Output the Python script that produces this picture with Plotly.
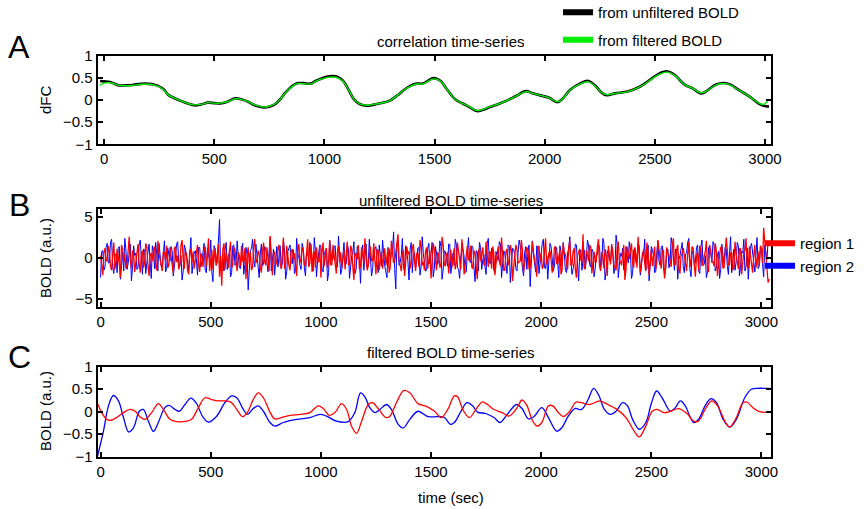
import numpy as np
import plotly.graph_objects as go

# ---------------- Panel A: sliding-window correlation (dFC) ----------------
dfc_t = [-18, 0, 30, 68, 100, 130, 185, 240, 270, 293, 320, 348, 380, 410, 440, 472,
         500, 526, 560, 596, 625, 650, 690, 728, 750, 775, 800, 822, 850, 876, 905, 938,
         960, 985, 1015, 1039, 1060, 1085, 1110, 1132, 1160, 1194, 1220, 1248, 1295, 1330,
         1357, 1390, 1419, 1445, 1466, 1490, 1510, 1530, 1558, 1595, 1632, 1665, 1692, 1720,
         1751, 1790, 1826, 1870, 1915, 1945, 1975, 2020, 2057, 2080, 2116, 2160, 2198, 2230,
         2255, 2280, 2320, 2376, 2420, 2451, 2490, 2525, 2555, 2592, 2615, 2637, 2670, 2711,
         2740, 2778, 2823, 2850, 2868, 2900, 2935, 2972, 2994, 3018]
dfc_unfiltered = [0.43, 0.42, 0.40, 0.33, 0.33, 0.34, 0.37, 0.33, 0.24, 0.11, 0.04, -0.02, -0.08,
                  -0.12, -0.10, -0.06, -0.07, -0.08, -0.04, 0.04, 0.01, -0.03, -0.13, -0.17, -0.15,
                  -0.10, 0.02, 0.16, 0.30, 0.38, 0.38, 0.37, 0.43, 0.48, 0.53, 0.54, 0.52, 0.43,
                  0.23, 0.03, -0.09, -0.13, -0.11, -0.08, -0.02, 0.10, 0.21, 0.32, 0.37, 0.37,
                  0.42, 0.49, 0.48, 0.42, 0.23, 0.01, -0.09, -0.18, -0.25, -0.22, -0.16, -0.09,
                  -0.02, 0.09, 0.20, 0.15, 0.11, 0.05, -0.05, 0.02, 0.23, 0.37, 0.43, 0.32, 0.18,
                  0.11, 0.15, 0.19, 0.27, 0.36, 0.50, 0.61, 0.65, 0.56, 0.44, 0.34, 0.27, 0.15,
                  0.22, 0.35, 0.38, 0.33, 0.27, 0.17, 0.06, -0.08, -0.13, -0.15]
dfc_filtered = [0.33, 0.38, 0.39, 0.33, 0.32, 0.33, 0.36, 0.32, 0.23, 0.11, 0.04, -0.02, -0.08,
                -0.11, -0.10, -0.06, -0.07, -0.07, -0.04, 0.03, 0.01, -0.03, -0.12, -0.16, -0.14,
                -0.09, 0.02, 0.16, 0.29, 0.37, 0.37, 0.36, 0.42, 0.47, 0.51, 0.52, 0.50, 0.42,
                0.23, 0.03, -0.09, -0.12, -0.10, -0.08, -0.02, 0.10, 0.21, 0.31, 0.36, 0.36,
                0.41, 0.47, 0.47, 0.41, 0.23, 0.01, -0.09, -0.17, -0.24, -0.21, -0.15, -0.09,
                -0.02, 0.09, 0.19, 0.15, 0.11, 0.05, -0.04, 0.02, 0.23, 0.36, 0.41, 0.31, 0.18,
                0.12, 0.15, 0.19, 0.27, 0.35, 0.49, 0.59, 0.63, 0.55, 0.44, 0.34, 0.27, 0.16,
                0.22, 0.34, 0.37, 0.32, 0.26, 0.17, 0.06, -0.07, -0.10, 0.02]

# ---------------- Panel B: unfiltered BOLD (samples every 5 s) ----------------
# samples at t = 0, 10, 20, ... s
bold_region1_even = [
    0.3, -2.1, 1.2, -0.4, 0.8, -1.5, 1.9, -0.6, 0.2, -2.4, 1.1, 0.5, -0.9, 2.6, -1.2, 0.4,
    -0.3, 1.7, -1.8, 0.9, -0.5, 1.3, -2.2, 0.6, 1.0, -1.1, 2.1, -0.2, -1.6, 0.7, 1.5, -0.8,
    0.1, -1.9, 1.4, 0.3, -0.7, 2.2, -1.3, 0.5, -2.0, 1.1, 0.8, -0.4, 1.6, -1.7, 0.2, 0.9,
    -1.0, 2.4, -0.6, -1.4, 1.2, 0.4, -2.3, -3.4, 1.8, 0.6, -1.2, 2.0, -0.8, 1.0, -1.6, 0.3,
    1.5, -0.5, -2.6, 1.3, 0.7, -1.1, 2.3, -0.3, 0.5, -1.8, 1.9, -0.9, 0.2, 2.7, -2.1, 0.8,
    -0.4, 1.6, -1.3, 2.5, -0.7, 0.1, -1.5, 1.1, 0.6, -2.2, 1.7, -0.2, 0.9, -1.0, 2.3, -0.6,
    -1.7, 0.8, 1.3, -0.5, -2.4, 1.9, 0.3, -1.2, 2.2, -0.8, 0.4, -1.9, 1.5, 0.7, -0.3, -1.4,
    2.0, -0.9, 1.1, -2.7, 0.5, 1.6, -1.0, 0.2, 2.4, -1.5, 0.6, -0.4, 1.8, -2.0, 0.9, -0.2,
    -1.3, 1.2, 0.4, -1.8, 2.1, -0.6, 1.0, 2.9, -1.1, 0.3, -2.2, 1.4, 0.8, -0.5, 1.7, -1.6,
    0.5, 2.2, -0.9, -1.5, 1.3, 0.1, -2.5, 1.8, -0.3, 0.7, -1.2, 2.6, -0.7, 0.4, -1.9, 1.0,
    0.2, -1.4, 1.9, -0.6, 2.3, -2.0, 0.9, -0.2, 1.5, -1.3, 0.6, -2.6, 1.2, 0.3, -0.8, 2.0,
    -1.1, 0.7, 1.4, -2.1, 0.5, -0.4, 2.5, -1.5, 0.8, -0.9, 1.6, -2.8, 0.4, 1.1, -0.5, 2.2,
    -1.7, 0.3, 1.0, -1.2, 2.0, -0.6, -2.3, 1.5, 0.6, -1.0, 2.4, -0.3, 0.9, -1.8, 1.3, -0.7,
    0.1, -2.0, 1.8, 0.5, -1.4, 2.1, -0.8, 1.2, -2.4, 0.7, -0.2, 2.9, -1.3, 0.4, 1.6, -1.9,
    0.8, -0.5, 2.3, -1.6, 0.2, 1.1, -2.2, 0.6, 1.7, -0.9, -1.5, 2.0, -0.4, 0.9, -2.7, 1.4,
    -0.1, 1.8, -1.2, 0.5, 2.6, -1.8, 0.3, -0.7, 1.9, -2.1, 1.0, 0.2, -1.4, 2.2, -0.6, 0.8,
    -2.5, 1.3, 0.4, -1.1, 2.4, -0.8, 1.6, -1.9, 0.6, 0.1, -1.6, 2.0, -0.3, 1.2, -2.3, 0.7,
    1.5, -1.0, 0.3, 2.1, -1.7, 0.9, -0.5, 1.8, -2.2, 0.4, 1.3, -1.2, 2.5, -0.9, 0.6, -1.5,
    2.0, -0.4, 1.1, -2.0, 0.8, 2.4, -1.3, 0.5, -1.8, 1.6, 0.2, -1.0, 1.2, 3.7, 0.4, -3.0,
]
# samples at t = 5, 15, 25, ... s
bold_region1_odd = [
    -1.2, 0.7, -0.3, 1.5, -1.0, 0.4, -1.4, 1.1, -0.8, 1.6, -0.5, -1.3, 1.2, -0.2, 0.9, -1.7,
    1.0, -0.6, 0.5, -1.2, 1.8, -0.9, 0.3, -0.4, 1.4, -1.5, 0.6, -1.1, 0.8, -0.3, -1.2, 1.3,
    -0.7, 1.2, -0.5, -1.4, 1.6, -0.2, 0.8, -1.5, 0.9, -0.6, -1.3, 1.1, -0.8, 0.6, -1.1, 1.4,
    0.5, -1.6, 1.0, 0.2, -0.9, 1.7, 0.3, 1.1, -1.4, -0.3, 0.9, -1.2, 1.3, -0.5, 0.7, -1.0,
    -0.4, 1.2, 0.3, -0.8, -1.5, 1.4, -0.6, 0.9, -1.2, 0.8, -0.5, 1.3, -1.6, 0.2, 0.6, -0.9,
    1.1, -0.7, 0.4, -1.3, 1.5, -0.9, 0.8, -0.2, -1.4, 1.0, -0.6, 1.3, -0.8, 0.5, -1.1, 1.7,
    0.6, -1.2, -0.3, 1.4, 0.8, -1.0, 1.2, -0.4, -0.9, 1.6, -1.3, 0.7, -0.5, -1.2, 1.0, 0.4,
    -0.8, 1.5, -1.1, 0.6, -0.2, -1.4, 1.3, -0.7, 0.9, -1.0, 1.4, -0.3, -0.9, 1.1, -1.5, 0.8,
    0.3, -0.9, 1.2, -1.1, 0.7, -0.4, 1.8, -0.2, -1.6, 1.0, -0.7, 0.5, -1.3, 1.2, -0.4, 0.6,
    -1.1, 1.4, -0.5, 0.8, -1.3, 0.9, -0.3, 1.1, -1.5, 0.4, -0.8, 1.6, -1.0, 0.7, -0.2, -1.2,
    1.2, -0.6, 0.5, -1.4, 1.0, -0.8, 1.5, -0.3, -1.1, 0.9, -1.6, 0.7, -0.4, 1.3, -0.9, 0.2,
    0.8, -1.3, 0.6, -0.7, 1.4, -1.0, 0.3, -1.5, 1.1, -0.2, 0.9, -1.2, 1.6, -0.6, -0.4, 1.0,
    -0.9, 1.3, -1.4, 0.4, 0.7, -1.1, 1.2, -0.5, -1.3, 1.5, -0.8, 0.6, -0.2, -1.0, 1.4, -0.7,
    1.0, -1.5, 0.5, -0.3, 1.2, -0.9, 0.8, -1.4, 0.3, 1.1, -0.6, -1.2, 0.9, -0.4, 1.3, -0.8,
    -0.5, 1.4, -1.0, 0.7, -1.3, 0.2, 1.5, -0.8, 0.6, -1.1, 1.2, -0.3, -0.9, 1.6, -1.4, 0.5,
    0.9, -0.7, 1.3, -1.2, 0.4, -0.6, 1.1, -1.6, 0.8, -0.2, -1.0, 1.4, -0.5, 0.7, -1.3, 1.0,
    -1.2, 0.6, -0.4, 1.5, -0.9, 1.0, -1.3, 0.3, 1.2, -0.7, 0.5, -1.1, 1.4, -0.8, 0.2, -1.5,
    1.1, -0.3, 0.8, -1.4, 1.6, -0.5, -1.0, 0.9, -0.6, 1.3, -1.2, 0.4, 1.0, -0.8, 0.7, -1.1,
    0.5, -1.3, 1.2, -0.4, 0.9, -1.0, 1.4, -0.7, 0.3, -1.2, 0.8, 1.5, -0.6, 2.1, -1.4, -2.6,
]
bold_region2_even = [
    -2.4, 0.9, -1.1, 1.8, -0.6, 2.3, -1.9, 0.4, 1.2, -2.6, 0.7, 2.4, -1.4, 0.2, -2.8, 1.5,
    0.6, -1.2, 2.2, -2.0, 1.0, -0.3, 1.7, -2.5, 0.8, 1.9, -1.6, 0.3, -0.9, 2.1, -1.3, 0.5,
    1.4, -2.2, 0.1, 2.0, -1.0, -2.7, 1.6, 0.4, -1.5, 2.5, -0.7, 0.9, -2.1, 1.3, -0.4, 1.8,
    -1.8, 0.6, 2.2, -2.9, 1.1, -0.5, 4.7, -0.8, -1.6, 1.9, 0.2, -2.3, 1.5, -0.9, 2.1, -1.2,
    0.7, -2.0, 1.3, -3.9, 0.9, 2.3, -1.1, 0.3, -2.4, 1.7, -0.6, 1.1, -1.7, 2.6, -0.2, -2.1,
    1.4, 0.5, -1.3, 2.2, -2.6, 0.8, 1.6, -0.7, -1.9, 2.4, 0.1, -1.4, 1.2, -2.2, 0.6, 1.9,
    -0.9, 2.5, -2.3, 0.4, 1.5, -1.7, 0.9, -2.8, 2.1, -0.3, 1.3, -1.2, 2.7, -2.0, 0.5, -0.8,
    1.7, -2.5, 0.3, 2.0, -1.4, 1.0, -3.1, 1.6, 0.2, -1.1, 2.3, -2.2, 0.7, 1.4, -1.8, 0.4,
    2.2, -1.0, -2.4, 1.1, 0.6, 3.2, -3.8, 1.5, -0.5, 2.4, -1.6, 0.8, -2.7, 1.9, 0.3, -1.3,
    1.2, -2.1, 2.6, -0.4, -1.5, 1.8, 0.5, -2.3, 1.4, -0.8, 2.1, -2.6, 0.9, -0.1, 1.7, -1.9,
    0.6, 2.3, -1.2, -2.5, 1.0, 0.2, -1.7, 2.5, -0.6, 1.3, -2.9, 0.8, 1.9, -1.4, 0.4, -2.0,
    2.4, -0.7, 1.1, -1.8, 0.3, 2.0, -2.4, 0.9, -1.1, 1.6, -3.0, 1.2, 0.5, -1.6, 2.2, -0.5,
    -2.2, 1.4, 0.7, -3.5, 2.1, -0.9, 1.5, -1.9, 0.4, 2.3, -1.3, -2.6, 1.8, 0.1, -1.0, 1.3,
    -2.4, 0.8, 1.9, -1.5, 0.6, 2.6, -2.0, -0.4, 1.6, -2.8, 1.0, 0.3, -1.4, 2.2, -0.8, 1.1,
    -2.3, 0.5, 1.7, -1.1, 2.4, -2.7, 0.9, -0.3, 1.5, -1.9, 2.8, -2.4, 0.6, 1.2, -1.6, 0.2,
    2.0, -2.5, 1.0, -0.6, 1.8, -2.1, 0.7, 2.3, -1.3, -2.8, 1.4, 0.4, -1.7, 2.1, -0.9, 1.5,
    -2.2, 0.8, -1.2, 2.5, -0.4, 1.1, -2.6, 0.3, 1.9, -1.8, 0.6, 2.4, -2.3, 0.9, -0.5, 1.6,
    -1.9, 2.2, -0.8, -2.4, 1.3, 0.5, 2.0, -1.6, 0.4, -2.5, 1.7, -0.7, 1.1, -2.0, 2.6, 0.1,
    -1.5, 1.9, -2.2, 0.8, 2.3, -1.0, -2.6, 1.4, 0.3, -1.7, 2.5, -0.9, 1.2, -2.3, 0.8, 2.1,
]
bold_region2_odd = [
    0.8, -1.5, 1.3, -0.6, 1.9, -1.1, 0.5, -1.8, 1.4, -0.3, -1.6, 1.0, -0.7, 1.7, -1.2, 0.3,
    -1.4, 1.6, -0.5, 1.1, -1.9, 0.7, -0.2, 1.5, -1.3, 0.4, 1.8, -1.0, 0.6, -1.7, 1.2, -0.4,
    0.9, -1.3, 1.7, -0.8, 0.3, -1.6, 1.1, -0.5, 1.4, -1.9, 0.6, -0.2, 1.3, -1.1, 0.8, -1.5,
    1.2, -0.4, -1.7, 1.5, -0.9, 2.0, -1.2, 0.5, 1.0, -1.4, 0.7, -1.8, 1.6, -0.6, 0.3, -1.3,
    1.8, -0.8, 0.4, -1.5, 1.2, -0.3, 1.7, -1.9, 0.6, -1.0, 1.4, -0.5, 0.9, -1.6, 1.1, -0.2,
    -1.1, 1.5, -0.6, 0.8, -1.7, 1.3, -0.4, 1.0, -1.5, 0.5, -0.9, 1.8, -1.2, 0.7, -0.3, 1.4,
    -1.6, 0.9, -0.5, 1.6, -1.3, 0.4, 1.2, -1.8, 0.7, -0.2, 1.5, -1.1, 0.3, -1.4, 1.9, -0.7,
    1.0, -1.2, 0.6, -1.9, 1.4, -0.3, 0.8, -1.5, 1.7, -0.8, 0.2, -1.3, 1.1, -0.6, 1.6, -1.0,
    0.4, -1.7, 1.3, -0.5, 0.9, -1.4, 1.8, -0.9, 0.3, -1.2, 1.5, -0.4, 1.0, -1.8, 0.7, -0.2,
    1.3, -1.1, 0.5, -1.6, 1.2, -0.7, 1.9, -1.3, 0.6, -0.3, 1.4, -1.5, 0.8, -1.0, 1.7, -0.5,
    -0.9, 1.6, -1.4, 0.3, 1.1, -1.8, 0.7, -0.4, 1.5, -1.2, 0.9, -1.6, 1.3, -0.2, -1.1, 1.8,
    -0.6, 1.2, -1.5, 0.8, -0.3, 1.7, -1.0, 0.5, -1.9, 1.4, -0.7, 1.0, -1.3, 0.6, 1.5, -1.2,
    0.7, -1.4, 1.6, -0.9, 0.4, -1.7, 1.1, -0.5, 1.8, -1.2, 0.3, -0.8, 1.4, -1.6, 0.9, -0.3,
    1.5, -1.0, 0.6, -1.8, 1.2, -0.4, -1.3, 1.7, -0.7, 0.5, -1.5, 1.0, -0.2, 1.6, -1.1, 0.8,
    -1.4, 0.4, 1.3, -0.8, 1.8, -1.6, 0.6, -0.3, 1.1, -1.2, 1.7, -0.9, 0.2, -1.5, 1.4, -0.6,
    0.9, -1.9, 1.2, -0.5, 1.5, -1.1, 0.3, -1.4, 1.6, -0.7, 1.0, -1.8, 0.8, -0.4, 1.3, -1.0,
    -1.3, 1.1, -0.6, 1.7, -1.5, 0.7, -0.2, 1.4, -1.1, 0.5, 1.9, -1.3, 0.6, -0.8, 1.2, -1.6,
    1.4, -0.9, 0.3, -1.7, 1.0, -0.5, 1.6, -1.2, 0.8, -1.4, 0.4, 1.3, -1.0, 0.7, -1.8, 1.1,
    -0.5, 1.5, -1.1, 0.6, -1.6, 1.2, -0.3, 1.8, -0.9, 0.4, -1.3, 1.0, -0.7, 1.6, -0.2, 1.9,
]
bold_t = np.arange(0, 3040, 5)
bold_region1 = np.empty(len(bold_t))
bold_region1[0::2], bold_region1[1::2] = bold_region1_even, bold_region1_odd
bold_region2 = np.empty(len(bold_t))
bold_region2[0::2], bold_region2[1::2] = bold_region2_even, bold_region2_odd

# ---------------- Panel C: band-pass filtered BOLD ----------------
filt1_t = [-14, 5, 28, 46, 73, 104, 134, 157, 179, 202, 232, 262, 285, 315, 345, 391, 413,
           444, 474, 504, 534, 572, 595, 618, 645, 666, 693, 716, 739, 769, 791, 821, 860,
           905, 950, 988, 1011, 1038, 1064, 1094, 1117, 1139, 1162, 1185, 1215, 1234, 1260,
           1295, 1313, 1343, 1376, 1404, 1441, 1479, 1516, 1546, 1576, 1606, 1621, 1644,
           1674, 1704, 1733, 1756, 1786, 1823, 1853, 1891, 1913, 1936, 1958, 1981, 2003,
           2033, 2053, 2078, 2100, 2130, 2157, 2183, 2220, 2265, 2302, 2347, 2385, 2422,
           2445, 2475, 2504, 2527, 2557, 2587, 2624, 2662, 2692, 2714, 2744, 2774, 2801,
           2834, 2856, 2886, 2916, 2935, 2961, 2991, 3040]
filt_region1 = [0.18, -0.02, -0.17, -0.19, -0.13, -0.02, 0.05, 0.01, -0.11, -0.17, -0.02,
                0.18, 0.05, -0.17, -0.22, -0.21, -0.17, 0.09, 0.31, 0.27, 0.24, 0.24, 0.20,
                0.05, -0.11, -0.02, 0.27, 0.42, 0.31, -0.01, -0.16, -0.13, -0.08, -0.06,
                -0.02, 0.13, 0.07, -0.08, -0.02, 0.18, 0.05, -0.32, -0.48, -0.21, 0.16, 0.20,
                0.07, -0.13, -0.10, 0.20, 0.47, 0.42, 0.18, 0.12, 0.01, -0.13, 0.05, 0.35,
                0.33, 0.05, -0.13, 0.05, 0.22, 0.16, 0.05, -0.02, -0.10, 0.09, 0.26, 0.13,
                -0.17, -0.32, -0.24, 0.13, 0.13, -0.02, -0.11, 0.01, 0.21, 0.20, 0.16, 0.24,
                0.16, 0.04, -0.13, -0.43, -0.56, -0.32, 0.01, 0.05, -0.02, 0.01, 0.07, -0.04,
                -0.21, -0.21, 0.05, 0.24, 0.13, -0.21, -0.34, -0.13, 0.20, 0.21, 0.09, 0.00,
                -0.01]

filt2_t = [-14, 13, 36, 58, 81, 104, 127, 149, 176, 194, 217, 240, 262, 292, 311, 338, 357,
           383, 410, 433, 466, 489, 527, 564, 595, 618, 648, 666, 693, 716, 739, 769, 791,
           829, 890, 950, 996, 1026, 1071, 1124, 1154, 1180, 1200, 1222, 1245, 1268, 1298,
           1320, 1351, 1374, 1404, 1441, 1487, 1531, 1561, 1588, 1606, 1636, 1663, 1689,
           1711, 1748, 1786, 1813, 1846, 1888, 1913, 1943, 1969, 2003, 2033, 2070, 2093,
           2123, 2153, 2183, 2213, 2238, 2262, 2287, 2313, 2340, 2370, 2392, 2415, 2445,
           2475, 2501, 2524, 2549, 2587, 2609, 2632, 2654, 2692, 2714, 2744, 2771, 2796,
           2826, 2856, 2886, 2924, 2954, 2983, 3010, 3040]
filt_region2 = [-0.99, -0.43, 0.13, 0.36, 0.24, -0.13, -0.45, -0.36, 0.01, 0.05, -0.21,
                -0.44, -0.24, 0.09, 0.14, 0.05, 0.01, 0.16, 0.30, 0.20, -0.13, -0.23, -0.10,
                0.20, 0.35, 0.31, 0.05, -0.06, 0.07, 0.13, 0.01, -0.24, -0.32, -0.24, -0.17,
                -0.13, -0.06, -0.10, -0.21, -0.22, -0.02, 0.42, 0.33, 0.09, -0.02, 0.05, 0.16,
                0.05, -0.28, -0.36, -0.17, 0.01, -0.11, -0.11, -0.13, -0.28, -0.24, 0.01,
                0.20, 0.13, -0.01, -0.04, -0.13, -0.24, -0.06, 0.16, 0.07, -0.16, -0.10, 0.09,
                -0.13, -0.43, -0.36, -0.10, 0.07, 0.05, 0.27, 0.52, 0.36, 0.05, -0.06, 0.01,
                0.20, 0.13, -0.17, -0.39, -0.24, 0.20, 0.46, 0.31, 0.01, 0.09, 0.24, 0.13,
                -0.24, -0.17, 0.13, 0.29, 0.20, -0.17, -0.34, -0.17, 0.31, 0.50, 0.52, 0.52,
                0.52]

FONT = "Liberation Sans, Arial, sans-serif"
W, H = 866, 509


def px_x(p):
    return p / W


def px_y(p):
    return 1 - p / H


fig = go.Figure()

# Panel A traces
fig.add_trace(go.Scatter(x=dfc_t, y=dfc_unfiltered, mode="lines", line=dict(color="black", width=2.6, shape="spline"),
                         showlegend=False, xaxis="x", yaxis="y"))
fig.add_trace(go.Scatter(x=dfc_t, y=dfc_filtered, mode="lines", line=dict(color="#00ee00", width=1.4, shape="spline"),
                         showlegend=False, xaxis="x", yaxis="y"))
# Panel B traces
fig.add_trace(go.Scatter(x=bold_t, y=bold_region2, mode="lines", line=dict(color="#0000ff", width=1),
                         showlegend=False, xaxis="x2", yaxis="y2"))
fig.add_trace(go.Scatter(x=bold_t, y=bold_region1, mode="lines", line=dict(color="#ff0000", width=1.3),
                         showlegend=False, xaxis="x2", yaxis="y2"))
# Panel C traces
fig.add_trace(go.Scatter(x=filt2_t, y=filt_region2, mode="lines", line=dict(color="#0000ff", width=1.3, shape="spline"),
                         showlegend=False, xaxis="x3", yaxis="y3"))
fig.add_trace(go.Scatter(x=filt1_t, y=filt_region1, mode="lines", line=dict(color="#ff0000", width=1.3, shape="spline"),
                         showlegend=False, xaxis="x3", yaxis="y3"))

# Legend keys (thick bars)
fig.add_trace(go.Scatter(x=[None], y=[None], mode="lines", line=dict(color="black", width=6),
                         name="from unfiltered BOLD", legend="legend", legendgroup="a1", xaxis="x", yaxis="y"))
fig.add_trace(go.Scatter(x=[None], y=[None], mode="lines", line=dict(color="#00ee00", width=6),
                         name="from filtered BOLD", legend="legend", legendgroup="a2", xaxis="x", yaxis="y"))
fig.add_trace(go.Scatter(x=[None], y=[None], mode="lines", line=dict(color="#ff0000", width=6),
                         name="region 1", legend="legend2", xaxis="x2", yaxis="y2"))
fig.add_trace(go.Scatter(x=[None], y=[None], mode="lines", line=dict(color="#0000ff", width=6),
                         name="region 2", legend="legend2", xaxis="x2", yaxis="y2"))

x_dom = [px_x(97.5), px_x(770.5)]
axis_common = dict(showline=True, linecolor="black", linewidth=2, mirror="ticks", ticks="inside",
                   ticklen=5, tickwidth=1.5, tickcolor="black", showgrid=False, zeroline=False,
                   tickfont=dict(family=FONT, size=15, color="black"))
xticks = dict(tickvals=[0, 500, 1000, 1500, 2000, 2500, 3000])

fig.update_layout(
    width=W, height=H, margin=dict(l=0, r=0, t=0, b=0, autoexpand=False),
    paper_bgcolor="white", plot_bgcolor="white",
    font=dict(family=FONT, size=15, color="black"),
    xaxis=dict(domain=x_dom, range=[-30, 3025], anchor="y", **xticks, **axis_common),
    yaxis=dict(domain=[px_y(144.3), px_y(55.7)], range=[-1, 1], anchor="x",
               tickvals=[-1, -0.5, 0, 0.5, 1], **axis_common),
    xaxis2=dict(domain=x_dom, range=[-14, 3041], anchor="y2", **xticks, **axis_common),
    yaxis2=dict(domain=[px_y(307), px_y(209)], range=[-6, 6], anchor="x2",
                tickvals=[-5, 0, 5], **axis_common),
    xaxis3=dict(domain=x_dom, range=[-14, 3041], anchor="y3", **xticks, **axis_common),
    yaxis3=dict(domain=[px_y(456.7), px_y(366.7)], range=[-1, 1], anchor="x3",
                tickvals=[-1, -0.5, 0, 0.5, 1], **axis_common),
    legend=dict(x=px_x(558), y=px_y(-4), xanchor="left", yanchor="top", bgcolor="rgba(0,0,0,0)",
                font=dict(family=FONT, size=15), tracegroupgap=5, itemwidth=30),
    legend2=dict(x=px_x(760), y=px_y(227), xanchor="left", yanchor="top", bgcolor="rgba(0,0,0,0)",
                 font=dict(family=FONT, size=15), tracegroupgap=0, itemwidth=30),
)

ann = []
for txt, yc in [("correlation time-series", 42), ("unfiltered BOLD time-series", 200),
                ("filtered BOLD time-series", 352), ("time (sec)", 497)]:
    ann.append(dict(text=txt, x=px_x(451), y=px_y(yc), xref="paper", yref="paper",
                    xanchor="center", yanchor="middle", showarrow=False, font=dict(family=FONT, size=15)))
for txt, yc in [("dFC", 100), ("BOLD (a.u.)", 258), ("BOLD (a.u.)", 411)]:
    ann.append(dict(text=txt, x=px_x(45), y=px_y(yc), xref="paper", yref="paper", textangle=-90,
                    xanchor="center", yanchor="middle", showarrow=False, font=dict(family=FONT, size=15)))
for txt, yc in [("A", 47), ("B", 205), ("C", 357)]:
    ann.append(dict(text=txt, x=px_x(19), y=px_y(yc), xref="paper", yref="paper",
                    xanchor="center", yanchor="middle", showarrow=False, font=dict(family=FONT, size=32)))
fig.update_layout(annotations=ann)

fig.write_html("out.html")
